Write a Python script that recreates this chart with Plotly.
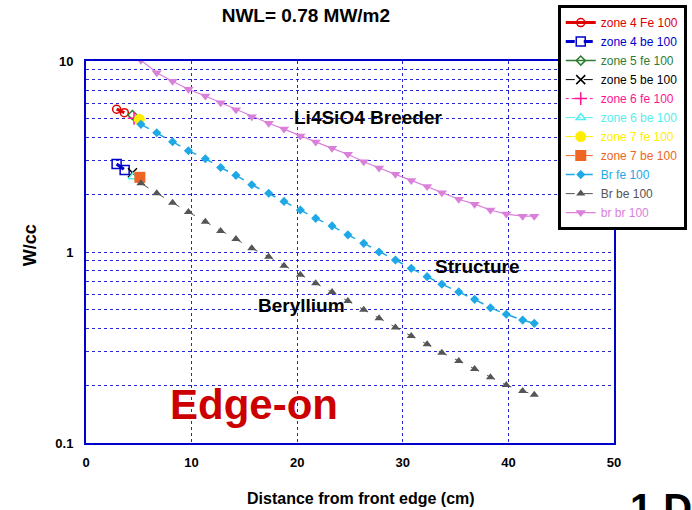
import plotly.graph_objects as go

# ---- data ----
br_x = [5.2, 6.7, 8.2, 9.7, 11.3, 12.75, 14.2, 15.7, 17.3, 18.75, 20.3, 21.75, 23.3,
        24.8, 26.3, 27.75, 29.3, 30.8, 32.3, 33.7, 35.3, 36.8, 38.3, 39.8, 41.35, 42.45]
br_br = [10.1, 8.68, 7.83, 7.11, 6.56, 6.05, 5.56, 5.11, 4.72, 4.40, 4.05, 3.77, 3.49,
         3.25, 2.97, 2.75, 2.55, 2.37, 2.20, 2.04, 1.89, 1.78, 1.66, 1.58, 1.54, 1.54]
br_fe = [4.66, 4.21, 3.78, 3.39, 3.08, 2.77, 2.52, 2.25, 2.03, 1.84, 1.66, 1.50, 1.37,
         1.23, 1.11, 1.00, 0.908, 0.821, 0.743, 0.678, 0.618, 0.565, 0.511, 0.472, 0.44, 0.423]
br_be = [2.29, 2.03, 1.81, 1.62, 1.44, 1.29, 1.17, 1.046, 0.945, 0.848, 0.761, 0.686, 0.618,
         0.554, 0.499, 0.450, 0.402, 0.363, 0.329, 0.297, 0.269, 0.244, 0.221, 0.201, 0.187, 0.179]

z4fe_x = [2.9, 3.63]
z4fe_y = [5.59, 5.36]
z4be_x = [2.9, 3.66]
z4be_y = [2.89, 2.69]
z5fe_x = [4.4]
z5fe_y = [5.21]
z5be_x = [4.4]
z5be_y = [2.60]
z6fe_x = [4.55]
z6fe_y = [5.01]
z6be_x = [4.45]
z6be_y = [2.48]
z7fe_x = [5.05]
z7fe_y = [4.95]
z7be_x = [5.1]
z7be_y = [2.46]

FONT = "Liberation Sans, Arial, sans-serif"


def nm(text, color):
    return "<span style='color:%s'>%s</span>" % (color, text)


fig = go.Figure()

series = [
    ("zone 4 Fe 100", z4fe_x, z4fe_y, "#E00000", "solid", 3, "circle-open", 8, "#E00000"),
    ("zone 4 be 100", z4be_x, z4be_y, "#0000CC", "dash", 3, "square-open", 9, "#0000CC"),
    ("zone 5 fe 100", z5fe_x, z5fe_y, "#2E7D32", "solid", 1.5, "diamond-open", 7, "#2E7D32"),
    ("zone 5 be 100", z5be_x, z5be_y, "#000000", "dash", 1, "x-thin-open", 9, "#000000"),
    ("zone 6 fe 100", z6fe_x, z6fe_y, "#FF1493", "dot", 1, "cross-thin-open", 9, "#FF1493"),
    ("zone 6 be 100", z6be_x, z6be_y, "#55EEEE", "dashdot", 1, "triangle-up-open", 8, "#55EEEE"),
    ("zone 7 fe 100", z7fe_x, z7fe_y, "#FFEE00", "dash", 1, "circle", 11, "#FFEE00"),
    ("zone 7 be 100", z7be_x, z7be_y, "#EE6622", "dash", 1, "square", 11, "#EE6622"),
    ("Br fe 100", br_x, br_fe, "#1EA8E6", "dash", 1.5, "diamond", 7, "#1EA8E6"),
    ("Br be 100", br_x, br_be, "#555555", "dash", 1, "triangle-up", 8, "#555555"),
    ("br br 100", br_x, br_br, "#DA80DA", "solid", 1.2, "triangle-down", 9, "#DA80DA"),
]

for name, xs, ys, col, dash, lw, sym, ms, tcol in series:
    mline = dict(color=col, width=1.5) if "open" in sym else dict(width=0)
    fig.add_trace(go.Scatter(
        x=xs, y=ys, name=nm(name, tcol), mode="lines+markers",
        line=dict(color=col, dash=dash, width=lw),
        marker=dict(symbol=sym, size=ms, color=col, line=mline),
    ))

grid_col = "rgba(0,0,200,0.85)"

fig.update_layout(
    width=692, height=510,
    margin=dict(l=86, r=78, t=61, b=67, autoexpand=False),
    paper_bgcolor="white", plot_bgcolor="white",
    font=dict(family=FONT, size=13, color="black"),
    title=dict(text="<b>NWL= 0.78 MW/m2</b>", x=0.442, xanchor="center",
               y=0.97, yanchor="middle", yref="container",
               font=dict(family=FONT, size=19, color="black")),
    legend=dict(x=0.806, y=0.99, xref="container", yref="container",
                xanchor="left", yanchor="top",
                bgcolor="white", bordercolor="black", borderwidth=3,
                font=dict(family=FONT, size=12), tracegroupgap=0),
    xaxis=dict(range=[0, 50], dtick=10, showgrid=True, gridcolor=grid_col,
               griddash="dot", gridwidth=1, zeroline=False, automargin=False,
               showline=True, linecolor="#0000CC", linewidth=2, mirror=True,
               ticks="", tickfont=dict(family=FONT, size=13, color="black"),
               ticklabelstandoff=6, tickprefix="<b>", ticksuffix="</b>"),
    yaxis=dict(type="log", range=[-1, 1], dtick=1, showgrid=True, gridcolor=grid_col,
               griddash="dot", gridwidth=1, zeroline=False, automargin=False,
               showline=True, linecolor="#0000CC", linewidth=2, mirror=True,
               ticks="", tickfont=dict(family=FONT, size=13, color="black"),
               tickprefix="<b>", ticksuffix="</b>", ticklabelstandoff=8,
               minor=dict(dtick="D1", showgrid=True, gridcolor=grid_col,
                          griddash="dot", gridwidth=1, ticks="")),
    showlegend=True,
)

ann = [
    dict(text="<b>Li4SiO4 Breeder</b>", x=0.534, y=0.853, size=19, color="black"),
    dict(text="<b>Structure</b>", x=0.740, y=0.461, size=19, color="black"),
    dict(text="<b>Beryllium</b>", x=0.409, y=0.359, size=19, color="black"),
    dict(text="<b>Edge-on</b>", x=0.318, y=0.102, size=42, color="#CC0000"),
]
for a in ann:
    fig.add_annotation(text=a["text"], x=a["x"], y=a["y"], xref="paper", yref="paper",
                       xanchor="center", yanchor="middle", showarrow=False,
                       font=dict(family=FONT, size=a["size"], color=a["color"]))

fig.add_annotation(text="<b>1 D</b>", x=1.026, y=-0.107, xref="paper", yref="paper",
                   xanchor="left", yanchor="top", showarrow=False,
                   font=dict(family=FONT, size=40, color="black"))
fig.add_annotation(text="<b>W/cc</b>", x=-0.106, y=0.518, xref="paper", yref="paper",
                   xanchor="center", yanchor="middle", showarrow=False, textangle=-90,
                   font=dict(family=FONT, size=18, color="black"))
fig.add_annotation(text="<b>Distance from front edge (cm)</b>", x=0.521, y=-0.144,
                   xref="paper", yref="paper", xanchor="center", yanchor="middle",
                   showarrow=False, font=dict(family=FONT, size=16, color="black"))

fig.write_html(
    "out.html",
    config={"displayModeBar": False},
    post_script="document.body.style.margin='0';document.body.style.overflow='hidden';",
)
